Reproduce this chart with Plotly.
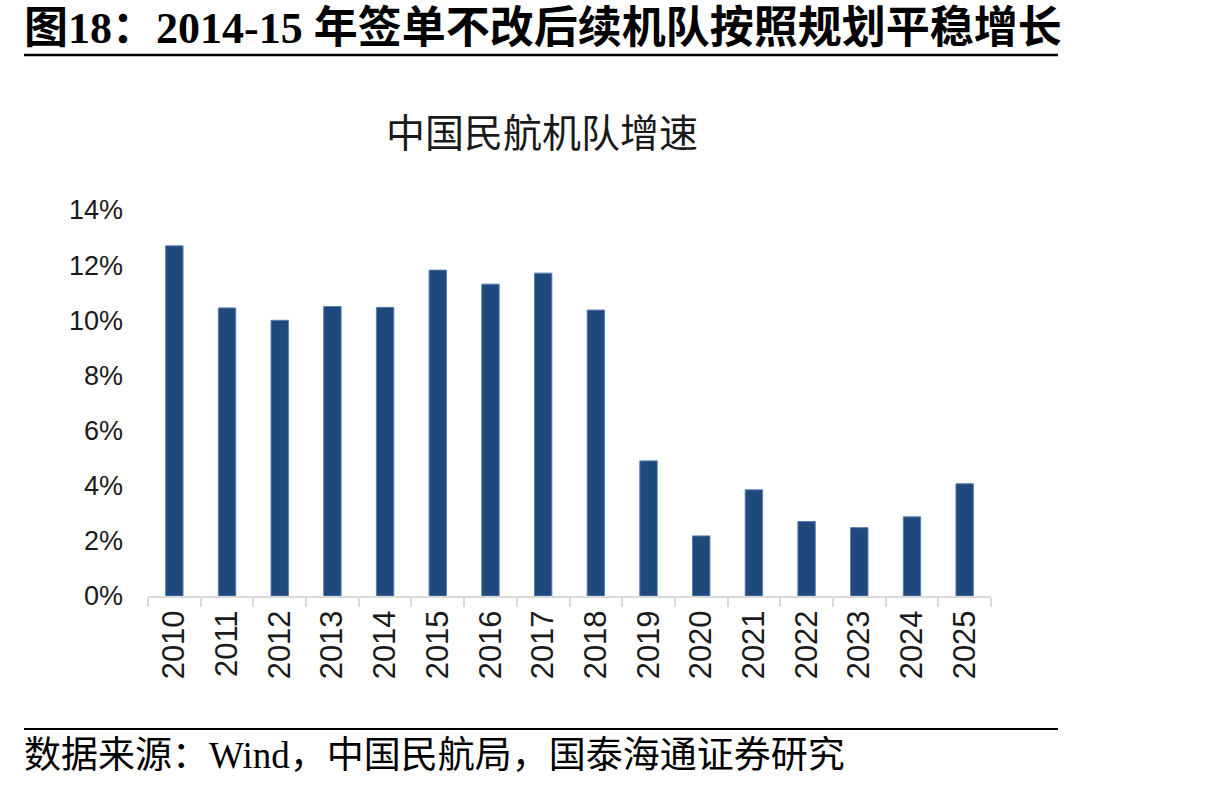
import plotly.graph_objects as go

years = ["2010", "2011", "2012", "2013", "2014", "2015", "2016", "2017",
         "2018", "2019", "2020", "2021", "2022", "2023", "2024", "2025"]
growth = [12.7, 10.45, 10.0, 10.5, 10.47, 11.82, 11.31, 11.71,
          10.37, 4.9, 2.18, 3.85, 2.7, 2.48, 2.87, 4.07]
y_ticks = [0, 2, 4, 6, 8, 10, 12, 14]
y_tick_text = [f"{v}%" for v in y_ticks]

header = "图18：2014-15 年签单不改后续机队按照规划平稳增长"
chart_title = "中国民航机队增速"
source = "数据来源：Wind，中国民航局，国泰海通证券研究"

fig = go.Figure()
fig.add_trace(go.Bar(
    x=years, y=growth,
    marker=dict(color="#1F497D", line=dict(color="#5a7fae", width=1)),
    width=0.33,
    hoverinfo="x+y",
))

fig.update_layout(
    width=1215, height=787,
    margin=dict(l=148, r=224, t=210, b=191),
    paper_bgcolor="white", plot_bgcolor="white",
    showlegend=False,
    font=dict(family="Liberation Sans, Arial, Noto Sans CJK SC", color="#1a1a1a"),
    xaxis=dict(
        type="category",
        showgrid=False,
        showline=True, linecolor="#d9d9d9", linewidth=2,
        ticks="outside", tickson="boundaries", ticklen=9, tickwidth=2, tickcolor="#d9d9d9",
        tickangle=-90,
        tickfont=dict(size=31, family="Liberation Sans, Arial", color="#1a1a1a"),
    ),
    yaxis=dict(
        range=[0, 14],
        tickvals=y_ticks, ticktext=y_tick_text,
        showgrid=False, showline=False, zeroline=False,
        ticks="", ticklabelstandoff=24,
        tickfont=dict(size=27, family="Liberation Sans, Arial", color="#1a1a1a"),
    ),
)

# header title
fig.add_annotation(
    text=header, xref="paper", yref="paper",
    x=(22 - 148) / 843, y=1 + (210 - 28) / 386, xanchor="left", yanchor="middle",
    showarrow=False,
    font=dict(size=44, family="Liberation Serif, Noto Sans CJK SC", color="black", weight="bold"),
)
# chart title
fig.add_annotation(
    text=chart_title, xref="paper", yref="paper",
    x=(542 - 148) / 843, y=1 + (210 - 130) / 386, xanchor="center", yanchor="middle",
    showarrow=False,
    font=dict(size=39, family="Noto Sans CJK SC", color="#1a1a1a"),
)
# source
fig.add_annotation(
    text=source, xref="paper", yref="paper",
    x=(22 - 148) / 843, y=(596 - 755) / 386, xanchor="left", yanchor="middle",
    showarrow=False,
    font=dict(size=37, family="Liberation Serif, Noto Sans CJK SC", color="black"),
)

# separator lines
fig.add_shape(type="line", xref="paper", yref="paper",
              x0=(24 - 148) / 843, x1=(1058 - 148) / 843,
              y0=1 + (210 - 55) / 386, y1=1 + (210 - 55) / 386,
              line=dict(color="black", width=2.5))
fig.add_shape(type="line", xref="paper", yref="paper",
              x0=(24 - 148) / 843, x1=(1058 - 148) / 843,
              y0=(596 - 729) / 386, y1=(596 - 729) / 386,
              line=dict(color="black", width=2))

fig.write_html("out.html")
